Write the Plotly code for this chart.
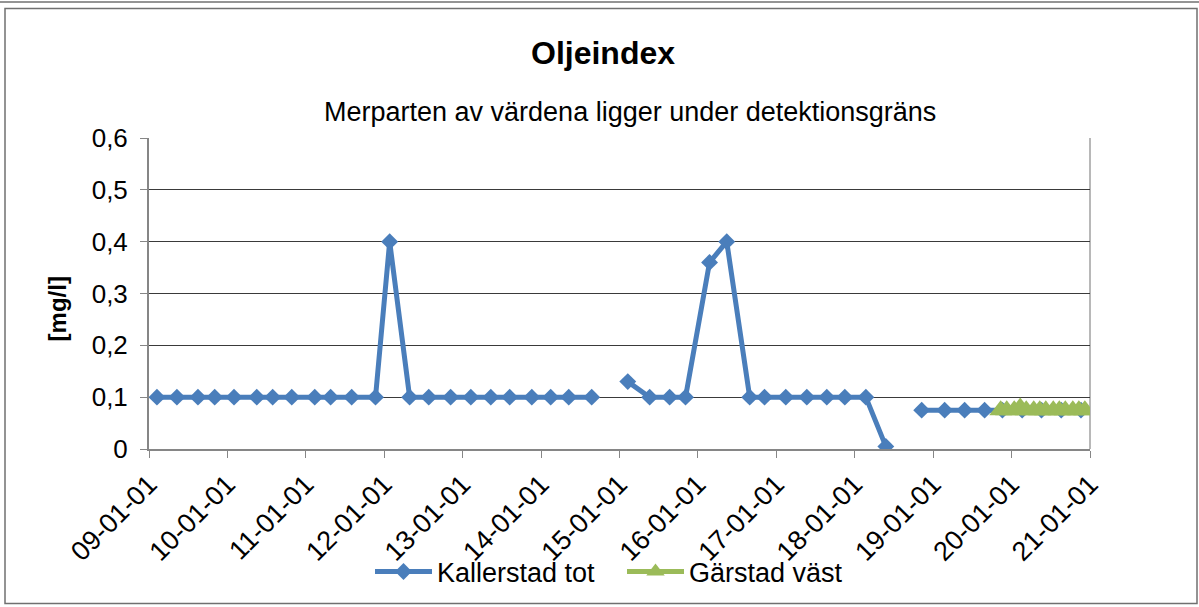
import plotly.graph_objects as go

# ---- data ----
kallerstad_dates = [
    "2009-02-07", "2009-05-11", "2009-08-17", "2009-11-03", "2010-02-01", "2010-05-18",
    "2010-07-31", "2010-10-28", "2011-02-12", "2011-04-27", "2011-08-03", "2011-11-22",
    "2012-01-27", "2012-04-29", "2012-07-27", "2012-11-06", "2013-02-08", "2013-05-12",
    "2013-08-08", "2013-11-19", "2014-02-15", "2014-05-10", "2014-08-25",
    "2014-11-15",
    "2015-02-09", "2015-05-22", "2015-08-23", "2015-11-05", "2016-02-25", "2016-05-15",
    "2016-08-30", "2016-11-07", "2017-02-14", "2017-05-23", "2017-08-24", "2017-11-16",
    "2018-02-22", "2018-05-26",
    "2018-08-15",
    "2018-11-09", "2019-02-24", "2019-05-28", "2019-08-29", "2019-11-20", "2020-02-20",
    "2020-05-20", "2020-08-20", "2020-11-20",
]
kallerstad_values = [
    0.1, 0.1, 0.1, 0.1, 0.1, 0.1,
    0.1, 0.1, 0.1, 0.1, 0.1, 0.1,
    0.4, 0.1, 0.1, 0.1, 0.1, 0.1,
    0.1, 0.1, 0.1, 0.1, 0.1,
    None,
    0.13, 0.1, 0.1, 0.1, 0.36, 0.4,
    0.1, 0.1, 0.1, 0.1, 0.1, 0.1,
    0.1, 0.005,
    None,
    0.075, 0.075, 0.075, 0.075, 0.075, 0.075,
    0.075, 0.075, 0.075,
]

garstad_dates = [
    "2019-11-12", "2019-12-10", "2020-01-14", "2020-02-11", "2020-03-10", "2020-04-14",
    "2020-05-12", "2020-06-09", "2020-07-14", "2020-08-11", "2020-09-08", "2020-10-13",
    "2020-11-10", "2020-12-08",
]
garstad_values = [
    0.075, 0.075, 0.075, 0.08, 0.075, 0.075,
    0.075, 0.075, 0.075, 0.075, 0.075, 0.075,
    0.075, 0.075,
]

y_tickvals = [0, 0.1, 0.2, 0.3, 0.4, 0.5, 0.6]
y_ticktext = ["0", "0,1", "0,2", "0,3", "0,4", "0,5", "0,6"]

title_text = "Oljeindex"
subtitle_text = "Merparten av värdena ligger under detektionsgräns"
y_title = "[mg/l]"

# ---- figure ----
W, H = 1199, 607
L, R, T, B = 149, 1090, 138, 450


def px(x):
    return (x - L) / (R - L)


def py(y):
    return (B - y) / (B - T)


FONT = "Liberation Sans, Arial, sans-serif"
BLUE = "#4A7EBB"
GREEN = "#9BBB59"

fig = go.Figure()
fig.add_trace(go.Scatter(
    x=kallerstad_dates, y=kallerstad_values, name="Kallerstad tot",
    mode="lines+markers", connectgaps=False,
    line=dict(color=BLUE, width=5),
    marker=dict(symbol="diamond", size=13, color=BLUE),
))
fig.add_trace(go.Scatter(
    x=garstad_dates, y=garstad_values, name="Gärstad väst",
    mode="lines+markers",
    line=dict(color=GREEN, width=5),
    marker=dict(symbol="triangle-up", size=20, color=GREEN),
))

fig.update_layout(
    width=W, height=H,
    margin=dict(l=L, r=W - R, t=T, b=H - B),
    paper_bgcolor="white", plot_bgcolor="white",
    font=dict(family=FONT, size=24, color="black"),
    showlegend=True,
    legend=dict(
        orientation="h", x=px(370), xanchor="left", y=py(572), yanchor="middle",
        font=dict(size=27), bgcolor="rgba(0,0,0,0)", itemwidth=57,
        entrywidth=180, entrywidthmode="pixels",
    ),
    xaxis=dict(
        type="date", range=["2009-01-01", "2021-01-01"],
        tick0="2009-01-01", dtick="M12", tickformat="%y-%m-%d", tickangle=-45,
        ticks="outside", ticklen=7, tickcolor="#868686", tickwidth=1,
        showline=True, linecolor="#868686", linewidth=1.5,
        showgrid=False, zeroline=False,
        tickfont=dict(size=27), mirror=False,
    ),
    yaxis=dict(
        range=[0, 0.6], tickvals=y_tickvals,
        ticktext=[t + "\u00a0" for t in y_ticktext],
        ticks="outside", ticklen=7, tickcolor="#868686", tickwidth=1,
        showline=True, linecolor="#868686", linewidth=1.5,
        showgrid=True, gridcolor="#3a3a3a", gridwidth=1, zeroline=False,
        tickfont=dict(size=26),
    ),
    annotations=[
        dict(text="<b>%s</b>" % title_text, x=px(603), y=py(53), xref="paper", yref="paper",
             showarrow=False, font=dict(size=32), xanchor="center", yanchor="middle"),
        dict(text=subtitle_text, x=px(629.5), y=py(112), xref="paper", yref="paper",
             showarrow=False, font=dict(size=27), xanchor="center", yanchor="middle"),
        dict(text="<b>%s</b>" % y_title, x=px(57), y=py(310), xref="paper", yref="paper",
             showarrow=False, font=dict(size=24), textangle=-90,
             xanchor="center", yanchor="middle"),
    ],
    shapes=[
        dict(type="rect", xref="paper", yref="paper",
             x0=px(5), x1=px(1197), y0=py(605), y1=py(8),
             line=dict(color="#707070", width=1.5), layer="below"),
        dict(type="line", xref="paper", yref="paper",
             x0=px(0), x1=px(1199), y0=py(1.5), y1=py(1.5),
             line=dict(color="#707070", width=1.5)),
        dict(type="line", xref="paper", yref="paper",
             x0=1, x1=1, y0=0, y1=1,
             line=dict(color="#A0A0A0", width=1.5), layer="below"),
    ],
)

fig.write_html("out.html", config={"displayModeBar": False},
               post_script="document.body.style.margin='0px';")
